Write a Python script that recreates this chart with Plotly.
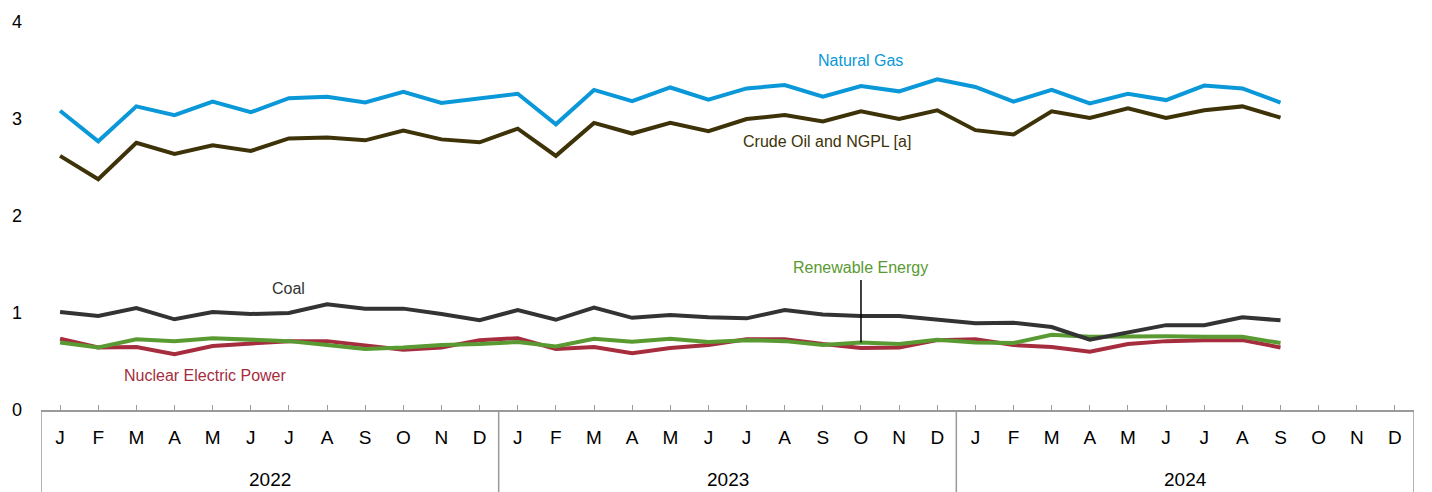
import plotly.graph_objects as go

months = ["J", "F", "M", "A", "M", "J", "J", "A", "S", "O", "N", "D"] * 3
years = ["2022", "2023", "2024"]

natural_gas = [3.085, 2.77, 3.13, 3.04, 3.18, 3.07, 3.215, 3.23, 3.17, 3.28, 3.165, 3.21,
               3.26, 2.945, 3.30, 3.185, 3.325, 3.20, 3.315, 3.35, 3.23, 3.34, 3.285, 3.41,
               3.33, 3.18, 3.30, 3.16, 3.26, 3.195, 3.345, 3.315, 3.17]
crude_oil = [2.62, 2.38, 2.755, 2.64, 2.73, 2.67, 2.80, 2.81, 2.78, 2.88, 2.79, 2.76,
             2.90, 2.62, 2.96, 2.85, 2.96, 2.875, 3.00, 3.04, 2.975, 3.08, 3.00, 3.09,
             2.885, 2.84, 3.08, 3.01, 3.11, 3.01, 3.09, 3.13, 3.015]
coal = [1.01, 0.97, 1.05, 0.935, 1.01, 0.99, 1.00, 1.09, 1.045, 1.045, 0.99, 0.925,
        1.03, 0.93, 1.055, 0.95, 0.98, 0.955, 0.945, 1.03, 0.985, 0.97, 0.97, 0.93,
        0.895, 0.90, 0.855, 0.725, 0.805, 0.875, 0.875, 0.955, 0.925]
nuclear = [0.735, 0.645, 0.65, 0.575, 0.66, 0.685, 0.71, 0.71, 0.67, 0.62, 0.645, 0.72,
           0.74, 0.63, 0.65, 0.585, 0.64, 0.67, 0.73, 0.73, 0.68, 0.64, 0.645, 0.72,
           0.73, 0.67, 0.65, 0.60, 0.68, 0.71, 0.72, 0.72, 0.645]
renewable = [0.695, 0.645, 0.73, 0.71, 0.74, 0.725, 0.71, 0.67, 0.63, 0.645, 0.67, 0.68,
             0.70, 0.655, 0.735, 0.705, 0.735, 0.70, 0.72, 0.71, 0.67, 0.695, 0.68, 0.725,
             0.695, 0.69, 0.775, 0.755, 0.76, 0.76, 0.755, 0.755, 0.69]

FONT = "Liberation Sans, Arial, sans-serif"
C_GAS = "#0a98d8"
C_OIL = "#3d3208"
C_COAL = "#333333"
C_NUC = "#a52d3e"
C_REN = "#5a9a32"

fig = go.Figure()
series = [
    ("Nuclear Electric Power", nuclear, C_NUC),
    ("Renewable Energy", renewable, C_REN),
    ("Coal", coal, C_COAL),
    ("Crude Oil and NGPL [a]", crude_oil, C_OIL),
    ("Natural Gas", natural_gas, C_GAS),
]
for name, vals, col in series:
    fig.add_trace(go.Scatter(x=list(range(len(vals))), y=vals, mode="lines", name=name,
                             line=dict(color=col, width=4), hoverinfo="skip"))

labels = [
    ("Natural Gas", 21, 3.605, C_GAS),
    ("Crude Oil and NGPL [a]", 20.1, 2.764, C_OIL),
    ("Coal", 6, 1.256, C_COAL),
    ("Renewable Energy", 21, 1.472, C_REN),
    ("Nuclear Electric Power", 3.8, 0.354, C_NUC),
]
for txt, x, y, col in labels:
    fig.add_annotation(x=x, y=y, xref="x", yref="y", text=txt, showarrow=False,
                       font=dict(family=FONT, size=16, color=col))

# pointer line for Renewable Energy
fig.add_shape(type="line", xref="x", yref="y", x0=21, x1=21, y0=renewable[21], y1=1.34,
              line=dict(color="black", width=1.5))

# year group separators and labels below axis
ybot = -82.5 / 390
for xb in [-0.5, 11.5, 23.5, 35.5]:
    fig.add_shape(type="line", xref="x", yref="paper", x0=xb, x1=xb, y0=0, y1=ybot,
                  line=dict(color="#9a9a9a", width=1.5))
for i, yr in enumerate(years):
    fig.add_annotation(x=i * 12 + 5.5, y=-69.5 / 390, xref="x", yref="paper", text=yr,
                       showarrow=False, yanchor="middle",
                       font=dict(family=FONT, size=19, color="black"))

fig.update_xaxes(range=[-0.5, 35.5], tickvals=list(range(36)), ticktext=months,
                 ticks="inside", ticklen=5, tickcolor="#9a9a9a", tickwidth=1.2,
                 showline=True, linecolor="#9a9a9a", linewidth=1.5, showgrid=False,
                 zeroline=False, ticklabelstandoff=9,
                 tickfont=dict(family=FONT, size=19, color="black"))
fig.update_yaxes(range=[0, 4], tickvals=[0, 1, 2, 3, 4], showgrid=False, zeroline=False,
                 showline=False, ticks="", ticklabelstandoff=18,
                 tickfont=dict(family=FONT, size=18, color="black"))

fig.update_layout(width=1432, height=492, margin=dict(l=39, r=18, t=20, b=82),
                  plot_bgcolor="white", paper_bgcolor="white", showlegend=False)

fig.write_html("out.html", config={"displayModeBar": False},
               post_script="document.body.style.margin='0';document.body.style.overflow='hidden';")
